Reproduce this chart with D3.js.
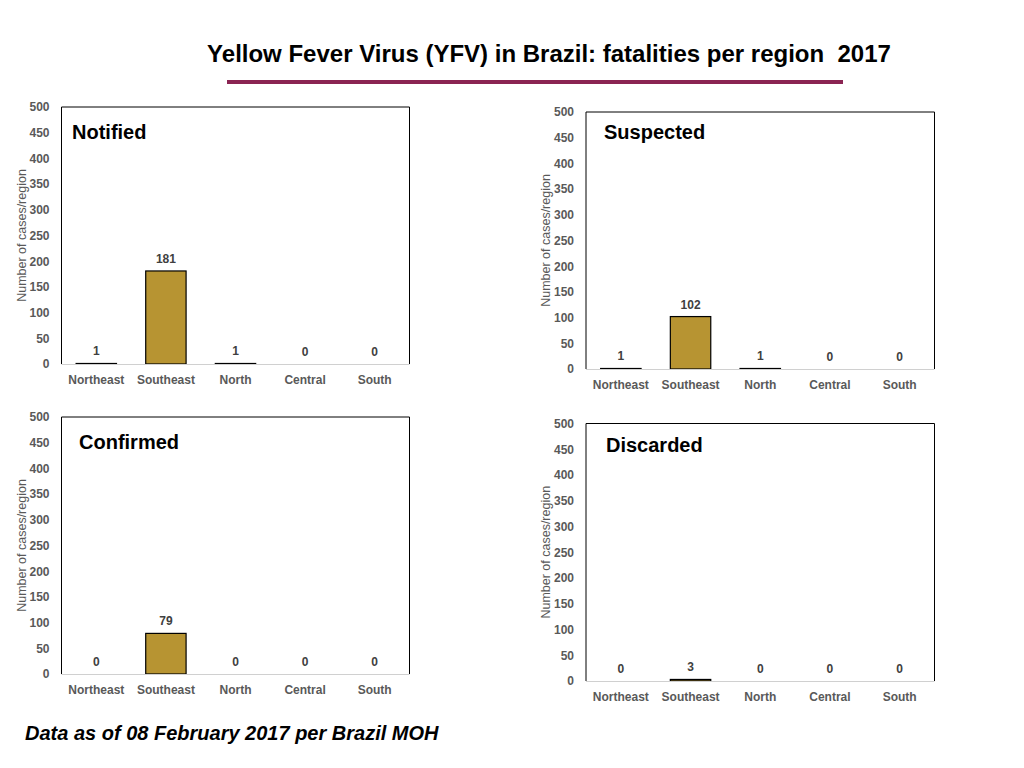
<!DOCTYPE html>
<html>
<head>
<meta charset="utf-8">
<script src="https://cdn.jsdelivr.net/npm/d3@7"></script>
<style>
  body { margin: 0; background: #fff; }
  svg { font-family: "Liberation Sans", Arial, Helvetica, sans-serif; }
  .tick-label { font-size: 12px; font-weight: bold; fill: #595959; }
  .cat-label { font-size: 12px; font-weight: bold; fill: #595959; }
  .val-label { font-size: 12px; font-weight: bold; fill: #404040; }
  .axis-title { font-size: 12.5px; fill: #595959; }
  .panel-title { font-size: 20px; font-weight: bold; fill: #000; }
</style>
</head>
<body>
<script>
// data
var regions = ["Northeast", "Southeast", "North", "Central", "South"];
var notified = [1, 181, 1, 0, 0];
var suspected = [1, 102, 1, 0, 0];
var confirmed = [0, 79, 0, 0, 0];
var discarded = [0, 3, 0, 0, 0];
var yTicks = [0, 50, 100, 150, 200, 250, 300, 350, 400, 450, 500];

var width = 1024, height = 768;

var svg = d3.select("body").append("svg")
    .attr("width", width)
    .attr("height", height);

// main title + underline
svg.append("text")
    .attr("x", 549)
    .attr("y", 62)
    .attr("text-anchor", "middle")
    .style("font-size", "24px")
    .style("font-weight", "bold")
    .style("white-space", "pre")
    .text("Yellow Fever Virus (YFV) in Brazil: fatalities per region  2017");

svg.append("rect")
    .attr("x", 227)
    .attr("y", 80)
    .attr("width", 616)
    .attr("height", 4)
    .attr("fill", "#8a2452");

// panel layout (box edges in page coords)
var panels = [
    { name: "Notified",  values: notified,  left: 61.5,  right: 409.5, top: 107, base: 364, tx: 72,  ty: 139 },
    { name: "Suspected", values: suspected, left: 586,   right: 934.5, top: 112, base: 369, tx: 604, ty: 139 },
    { name: "Confirmed", values: confirmed, left: 61.5,  right: 409.5, top: 417, base: 674, tx: 79,  ty: 449 },
    { name: "Discarded", values: discarded, left: 586,   right: 934.5, top: 423.5, base: 681, tx: 606, ty: 452 }
];

panels.forEach(function(p) {
    var g = svg.append("g");

    var x = d3.scaleBand()
        .domain(regions)
        .range([p.left, p.right])
        .paddingInner(0.42)
        .paddingOuter(0.21);

    var y = d3.scaleLinear()
        .domain([0, 500])
        .range([p.base, p.top]);

    // y axis labels only (no line, no ticks)
    var yAxis = g.append("g")
        .attr("transform", "translate(" + (p.left - 12) + ",0)")
        .call(d3.axisLeft(y).tickValues(yTicks).tickSize(0).tickPadding(0));
    yAxis.select(".domain").remove();
    yAxis.selectAll("text")
        .attr("class", "tick-label")
        .attr("font-family", null)
        .attr("font-size", null)
        .attr("fill", null);

    // plot box: black top/left/right
    g.append("path")
        .attr("d", "M" + p.left + "," + p.base + "V" + p.top + "H" + p.right + "V" + p.base)
        .attr("fill", "none")
        .attr("stroke", "#000")
        .attr("stroke-width", 1);

    // bars
    g.selectAll(".bar")
        .data(p.values)
        .enter().append("rect")
        .attr("class", "bar")
        .attr("x", function(d, i) { return x(regions[i]); })
        .attr("width", x.bandwidth())
        .attr("y", function(d) { return y(d); })
        .attr("height", function(d) { return p.base - y(d); })
        .attr("fill", "#b79432")
        .attr("stroke", function(d) { return d > 0 ? "#000" : "none"; })
        .attr("stroke-width", 1.2);

    // x baseline (gray)
    g.append("line")
        .attr("x1", p.left)
        .attr("x2", p.right)
        .attr("y1", p.base + 0.5)
        .attr("y2", p.base + 0.5)
        .attr("stroke", "#d0d0d0")
        .attr("stroke-width", 1);

    // x axis labels
    var xAxis = g.append("g")
        .attr("transform", "translate(0," + p.base + ")")
        .call(d3.axisBottom(x).tickSize(0).tickPadding(11));
    xAxis.select(".domain").remove();
    xAxis.selectAll("text")
        .attr("class", "cat-label")
        .attr("font-family", null)
        .attr("font-size", null)
        .attr("fill", null);

    // value labels
    g.selectAll(".val-label")
        .data(p.values)
        .enter().append("text")
        .attr("class", "val-label")
        .attr("x", function(d, i) { return x(regions[i]) + x.bandwidth() / 2; })
        .attr("y", function(d) { return y(d) - 8; })
        .attr("text-anchor", "middle")
        .text(function(d) { return d; });

    // panel title
    g.append("text")
        .attr("class", "panel-title")
        .attr("x", p.tx)
        .attr("y", p.ty)
        .text(p.name);

    // y axis title
    var midY = (p.top + p.base) / 2;
    g.append("text")
        .attr("class", "axis-title")
        .attr("transform", "translate(" + (p.left - 36) + "," + midY + ") rotate(-90)")
        .attr("text-anchor", "middle")
        .text("Number of cases/region");
});

// footnote
svg.append("text")
    .attr("x", 25)
    .attr("y", 740)
    .style("font-size", "20px")
    .style("font-weight", "bold")
    .style("font-style", "italic")
    .text("Data as of 08 February 2017 per Brazil MOH");
</script>
</body>
</html>
